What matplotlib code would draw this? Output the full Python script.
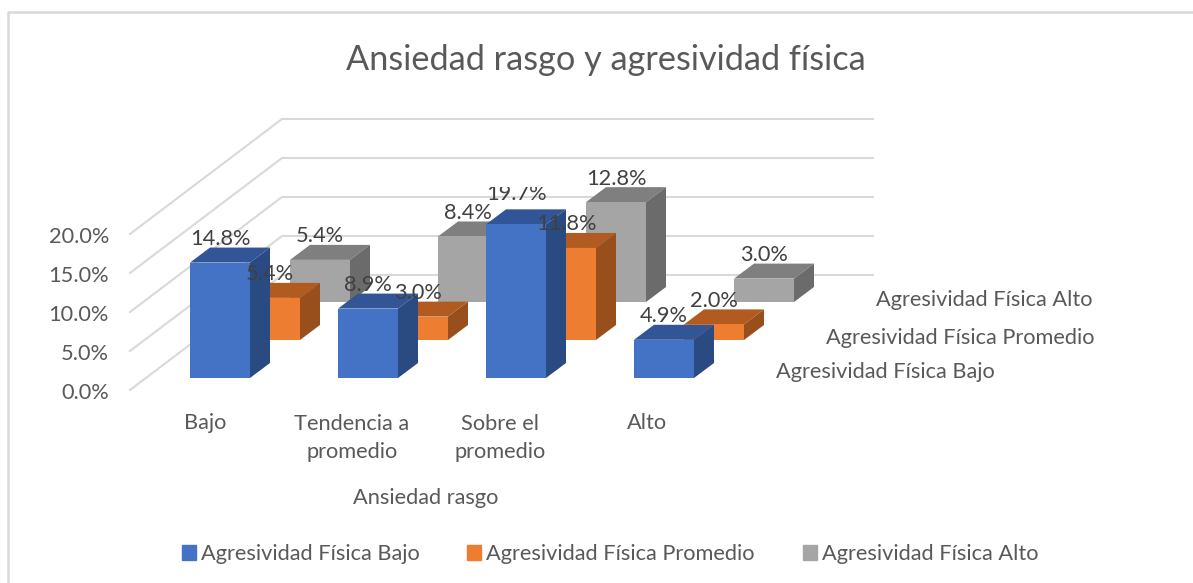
import matplotlib
matplotlib.use('Agg')
import matplotlib.pyplot as plt
from matplotlib.patches import Polygon, Rectangle

categories = ['Bajo', 'Tendencia a\npromedio', 'Sobre el\npromedio', 'Alto']
series_names = ['Agresividad Física Bajo', 'Agresividad Física Promedio', 'Agresividad Física Alto']
fisica_bajo = [14.8, 8.9, 19.7, 4.9]
fisica_promedio = [5.4, 3.0, 11.8, 2.0]
fisica_alto = [5.4, 8.4, 12.8, 3.0]
y_ticks = [0, 5, 10, 15, 20]

series_values = [fisica_bajo, fisica_promedio, fisica_alto]
front_colors = ['#4472C4', '#ED7D31', '#A5A5A5']
top_colors = ['#325597', '#B25B20', '#7F7F7F']
side_colors = ['#2A4A82', '#994F1C', '#6B6B6B']

plt.rcParams['font.family'] = ['Lato', 'DejaVu Sans']
TEXT = '#595959'
LABEL = '#404040'
FS = 15.7

W, H = 1193, 583
# one axes over the whole figure: x in categories, y in percent
PX_X = 148.0
PX_Y = 7.8
X0 = 220.0
Y0 = 378.0
BAR_W = 60 / PX_X
DEPTH_X = 20 / PX_X
DEPTH_Y = 15 / PX_Y
STEP_X = 50 / PX_X
STEP_Y = 38 / PX_Y


def xp(px):
    return (px - X0) / PX_X


def yp(px):
    return (Y0 - px) / PX_Y


fig = plt.figure(figsize=(W / 100, H / 100), dpi=100)
ax = fig.add_axes([0, 0, 1, 1])
ax.set_xlim(xp(0), xp(W))
ax.set_ylim(yp(H), yp(0))
ax.axis('off')

# chart frame, only the left and top edges are visible
ax.plot([xp(8), xp(8), xp(W)], [yp(H), yp(12), yp(12)], color='#D9D9D9', linewidth=1.8, zorder=0)

# gridlines on the side and back walls
wall_x = [xp(130), xp(282), xp(873)]
wall_y0 = yp(390)
wall_back = yp(275) - wall_y0
for t in y_ticks:
    y = wall_y0 + t
    ax.plot(wall_x, [y, y + wall_back, y + wall_back], color='#D9D9D9', linewidth=1.5,
            zorder=1, solid_joinstyle='miter')
    ax.text(xp(109), y - 0.4, f'{t:.1f}%', ha='right', va='center', fontsize=FS, color=TEXT)

# back series first so the front ones cover them
zorder = 2
for s in [2, 1, 0]:
    for i, v in enumerate(series_values[s]):
        left = i - 30 / PX_X + s * STEP_X
        base = s * STEP_Y
        right = left + BAR_W
        top = base + v
        ax.add_patch(Polygon([(left, top), (right, top), (right + DEPTH_X, top + DEPTH_Y),
                              (left + DEPTH_X, top + DEPTH_Y)], color=top_colors[s], lw=0, zorder=zorder))
        ax.add_patch(Polygon([(right, base), (right + DEPTH_X, base + DEPTH_Y),
                              (right + DEPTH_X, top + DEPTH_Y), (right, top)],
                             color=side_colors[s], lw=0, zorder=zorder))
        ax.bar(left, v, width=BAR_W, bottom=base, align='edge', color=front_colors[s], zorder=zorder)
        zorder += 1

# data labels over all the bars, the top of 19.7% is cut off in the original
clip = Rectangle((xp(0), yp(H)), xp(W) - xp(0), yp(187) - yp(H), transform=ax.transData)
for s, vals in enumerate(series_values):
    for i, v in enumerate(vals):
        lx = i + s * STEP_X
        ly = s * STEP_Y + v + DEPTH_Y + 8.5 / PX_Y
        if v == 19.7:
            ly += 7 / PX_Y
        t = ax.text(lx, ly, f'{v:.1f}%', ha='center', va='center', fontsize=FS, color=LABEL, zorder=100)
        if v == 19.7:
            t.set_clip_path(clip)
            t.set_clip_on(True)

# category labels
cat_px = [(205, 423), (352, 438), (500, 438), (647, 423)]
for name, (px, py) in zip(categories, cat_px):
    ax.text(xp(px), yp(py), name, ha='center', va='center', fontsize=FS, color=TEXT, linespacing=1.45)

# depth axis labels
depth_px = [(776, 372.5), (826, 338.5), (876, 300)]
for name, (px, py) in zip(series_names, depth_px):
    ax.text(xp(px), yp(py), name, ha='left', va='center', fontsize=FS, color=TEXT)

ax.text(xp(426), yp(498), 'Ansiedad rasgo', ha='center', va='center', fontsize=FS, color=TEXT)
ax.text(xp(605.5), yp(60), 'Ansiedad rasgo y agresividad física', ha='center', va='center',
        fontsize=24.7, color=TEXT)

handles = [Rectangle((0, 0), 1, 1, color=c) for c in front_colors]
ax.legend(handles, series_names, ncol=3, frameon=False, loc='center', fontsize=FS,
          bbox_to_anchor=(610 / W, 1 - 554 / H), labelcolor=TEXT, handlelength=0.64, handleheight=0.64,
          handletextpad=0.23, columnspacing=2.2)

fig.savefig('out.png', dpi=100)
